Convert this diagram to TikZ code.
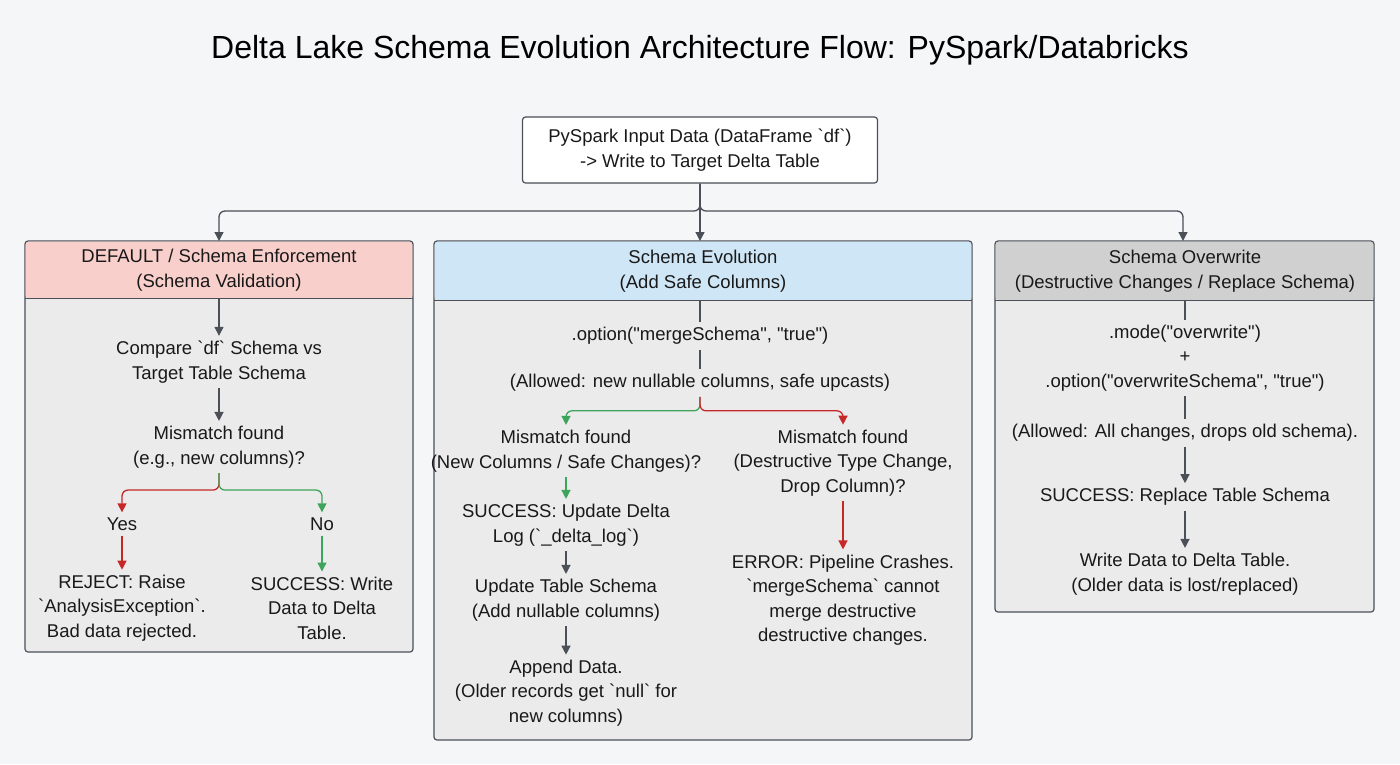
\documentclass[tikz,border=0pt]{standalone}
\usepackage{fontspec}
\setmainfont{Liberation Sans}[Ligatures=TeXOff]
\usetikzlibrary{arrows.meta}
\definecolor{bg}{HTML}{F4F6F8}
\definecolor{panel}{HTML}{EBEBEB}
\definecolor{pinkh}{HTML}{F9CFCB}
\definecolor{blueh}{HTML}{CFE6F6}
\definecolor{grayh}{HTML}{D0D0D0}
\definecolor{ln}{HTML}{4A4F58}
\definecolor{rd}{HTML}{C62828}
\definecolor{gn}{HTML}{3FA45B}
\tikzset{
 txt/.style={align=center,inner sep=5pt,font=\fontsize{18.5}{24.5}\selectfont,text=black!90},
 arr/.style={draw=ln,line width=1.3pt,-{Triangle[length=9pt,width=9pt]}},
 ln/.style={draw=ln,line width=1.3pt},
 rarr/.style={arr,draw=rd,-{Triangle[length=9pt,width=9pt,fill=rd]}},
 garr/.style={arr,draw=gn,-{Triangle[length=9pt,width=9pt,fill=gn]}},
 panelbox/.style={draw=ln,line width=1.2pt,fill=panel,rounded corners=3pt},
}
\begin{document}
\begin{tikzpicture}[x=1pt,y=-1pt]
\fill[bg] (0,0) rectangle (1400,764);
\useasboundingbox (0,0) rectangle (1400,764);
\node[font=\fontsize{32}{38}\selectfont] (title) at (700,50) {Delta Lake Schema Evolution Architecture Flow: PySpark/Databricks};
\node[txt,draw=ln,line width=1.2pt,fill=white,rounded corners=3pt,minimum width=355pt,minimum height=66pt] (top) at (700,150) {PySpark Input Data (DataFrame `df`)\\-> Write to Target Delta Table};
% panels
\draw[panelbox] (25,241) rectangle (413,652);
\draw[panelbox] (434,241) rectangle (972,740);
\draw[panelbox] (995,241) rectangle (1374,612);
\fill[pinkh,rounded corners=3pt] (25.6,241.6) rectangle (412.4,298);
\fill[blueh,rounded corners=3pt] (434.6,241.6) rectangle (971.4,300);
\fill[grayh,rounded corners=3pt] (995.6,241.6) rectangle (1373.4,300);
\draw[ln,line width=1pt] (25,298) -- (413,298);
\draw[ln,line width=1pt] (434,300) -- (972,300);
\draw[ln,line width=1pt] (995,300) -- (1374,300);
\node[txt,inner sep=0pt] (hL) at (219,270) {DEFAULT / Schema Enforcement\\(Schema Validation)};
\node[txt,inner sep=0pt] (hM) at (703,271) {Schema Evolution\\(Add Safe Columns)};
\node[txt,inner sep=0pt] (hR) at (1185,271) {Schema Overwrite\\(Destructive Changes / Replace Schema)};
\coordinate (pL) at (219,241);
\coordinate (pM) at (700,241);
\coordinate (pR) at (1183,241);
\coordinate (hLb) at (219,298);
\coordinate (hMb) at (700,300);
\coordinate (hRb) at (1185,300);
% top connectors
\draw[arr,rounded corners=6pt] (top.south) -- (700,211) -| (pL);
\draw[arr] (top.south) -- (pM);
\draw[arr,rounded corners=6pt] (top.south) -- (700,211) -| (pR);
% left panel
\node[txt] (cmp) at (219,362) {Compare `df` Schema vs\\Target Table Schema};
\node[txt] (mmL) at (219,447) {Mismatch found\\(e.g., new columns)?};
\node[txt] (yes) at (122,524) {Yes};
\node[txt] (no) at (322,524) {No};
\node[txt] (rej) at (122,608) {REJECT: Raise\\`AnalysisException`.\\Bad data rejected.};
\node[txt] (suc) at (322,608) {SUCCESS: Write\\Data to Delta\\Table.};
\draw[arr] (hLb) -- (cmp.north);
\draw[arr] (cmp.south) -- (mmL.north);
\draw[rarr,rounded corners=6pt] (mmL.south) -- ++(0,17) -| (yes.north);
\draw[garr,rounded corners=6pt] (mmL.south) -- ++(0,17) -| (no.north);
\draw[rarr] (yes.south) -- (rej.north);
\draw[garr] (no.south) -- (suc.north);
% middle panel
\node[txt] (opt) at (700,336) {.option("mergeSchema", "true")};
\node[txt] (alw) at (700,383) {(Allowed: new nullable columns, safe upcasts)};
\node[txt] (mmS) at (566,451) {Mismatch found\\(New Columns / Safe Changes)?};
\node[txt] (mmD) at (843,463) {Mismatch found\\(Destructive Type Change,\\Drop Column)?};
\node[txt] (sud) at (566,525) {SUCCESS: Update Delta\\Log (`\_delta\_log`)};
\node[txt] (uts) at (566,600) {Update Table Schema\\(Add nullable columns)};
\node[txt] (app) at (566,693) {Append Data.\\(Older records get `null` for\\new columns)};
\node[txt] (err) at (843,600) {ERROR: Pipeline Crashes.\\`mergeSchema` cannot\\merge destructive\\destructive changes.};
\draw[ln] (hMb) -- (opt.north);
\draw[ln] (opt.south) -- (alw.north);
\draw[garr,rounded corners=6pt] (alw.south) -- ++(0,14) -| (mmS.north);
\draw[rarr,rounded corners=6pt] (alw.south) -- ++(0,14) -| (mmD.north);
\draw[garr] (mmS.south) -- (sud.north);
\draw[arr] (sud.south) -- (uts.north);
\draw[arr] (uts.south) -- (app.north);
\draw[rarr] (mmD.south) -- (err.north);
% right panel
\node[txt] (mode) at (1185,358) {.mode("overwrite")\\+\\.option("overwriteSchema", "true")};
\node[txt] (alr) at (1185,433) {(Allowed: All changes, drops old schema).};
\node[txt] (rep) at (1185,497) {SUCCESS: Replace Table Schema};
\node[txt] (wr) at (1185,574) {Write Data to Delta Table.\\(Older data is lost/replaced)};
\draw[ln] (hRb) -- (mode.north);
\draw[ln] (mode.south) -- (alr.north);
\draw[arr] (alr.south) -- (rep.north);
\draw[arr] (rep.south) -- (wr.north);
\end{tikzpicture}
\end{document}
